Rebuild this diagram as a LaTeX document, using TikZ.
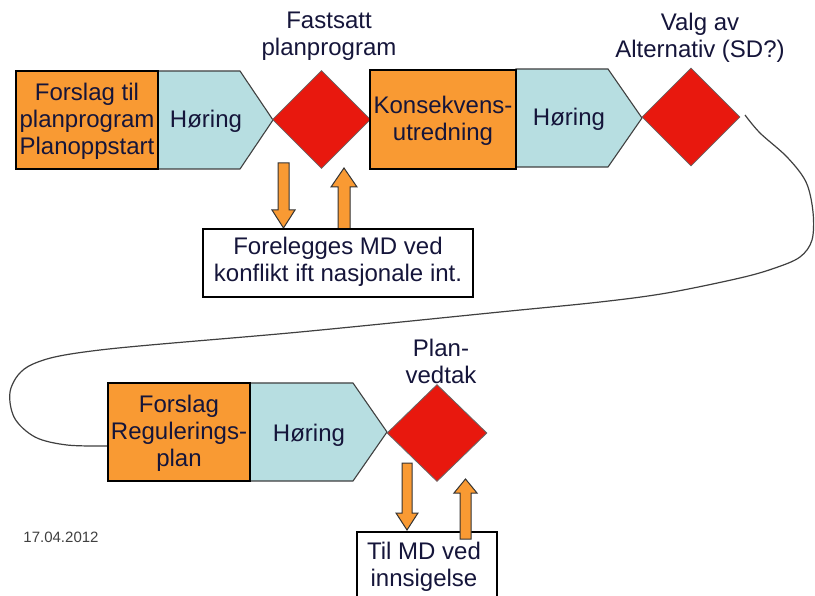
\documentclass[tikz,border=0pt]{standalone}
\usepackage{fontspec}
\setmainfont{Liberation Sans}
\usetikzlibrary{shapes.geometric}
\definecolor{orng}{HTML}{F99A33}
\definecolor{lblue}{HTML}{B7DEE1}
\definecolor{dred}{HTML}{E8180E}
\definecolor{txt}{HTML}{15153A}
\tikzset{
  obox/.style={draw=black, line width=1.4pt, fill=orng},
  bpent/.style={draw=black!75, line width=1.1pt, fill=lblue},
  dmd/.style={diamond, draw=black!60, line width=0.8pt, fill=dred, inner sep=0pt, minimum width=98pt, minimum height=98pt},
  lbl/.style={align=center, text=txt, font=\fontsize{24}{27}\selectfont, inner sep=0pt},
  wbox/.style={draw=black, line width=1.3pt, fill=white},
  barrow/.style={draw=black!80, line width=1pt, fill=orng, line join=miter},
  flow/.style={draw=black!75, line width=1.2pt}
}
\begin{document}
\begin{tikzpicture}[x=1pt,y=-1pt]
\clip (0,0) rectangle (815,596);
\fill[white] (0,0) rectangle (815,596);
% curve
\coordinate (cstart) at (745,115);
\coordinate (cend) at (108,446);
\draw[flow] plot[smooth, tension=0.55] coordinates {(cstart) (760,133) (787,157) (806,182) (813,212) (812,240) (800,257) (775,268) (740,278) (667,293) (600,302) (500,312) (300,332) (100,350) (33,364) (11,388) (14,417) (35,437) (67,445) (cend)};
% top row
\draw[bpent] (158,71) -- (240,71) -- (273,120) -- (240,169) -- (158,169) -- cycle;
\draw[obox] (16,71) rectangle (158,169);
\node[dmd] (d1) at (321.5,119.5) {};
\draw[bpent] (516,69) -- (608,69) -- (642,118) -- (608,167) -- (516,167) -- cycle;
\draw[obox] (370,70) rectangle (516,169);
\node[dmd] (d2) at (691,117) {};
\node[lbl] (t1) at (87,121) {Forslag til\\planprogram\\Planoppstart};
\node[lbl] (h1) at (206,121) {Høring};
\node[lbl] (t2) at (443,121) {Konsekvens-\\utredning};
\node[lbl] (h2) at (569,119) {Høring};
\node[lbl] (l1) at (329,36) {Fastsatt\\planprogram};
\node[lbl] (l2) at (700,38) {Valg av\\Alternativ (SD?)};
% arrows top
\draw[barrow] (278,163) -- (289,163) -- (289,210) -- (295,210) -- (283.5,228) -- (272,210) -- (278,210) -- cycle;
\draw[barrow] (338,229) -- (350,229) -- (350,187) -- (357,187) -- (344,168) -- (331,187) -- (338,187) -- cycle;
\draw[wbox] (203,229) rectangle (473,297);
\node[lbl] (f1) at (338,262) {Forelegges MD ved\\konflikt ift nasjonale int.};
% bottom row
\draw[bpent] (250,383) -- (353,383) -- (387,432) -- (353,481) -- (250,481) -- cycle;
\draw[obox] (108,383) rectangle (250,481);
\node[dmd, minimum width=100pt, minimum height=97pt] (d3) at (437,433) {};
\node[lbl] (t3) at (179,433) {Forslag\\Regulerings-\\plan};
\node[lbl] (h3) at (309,435) {Høring};
\node[lbl] (l3) at (441,361) {Plan-\\vedtak};
\draw[barrow] (402,463) -- (412,463) -- (412,513) -- (418,513) -- (407,530) -- (396,513) -- (402,513) -- cycle;
\draw[wbox] (357,532) rectangle (497,610);
\node[lbl] (f2) at (424,567) {Til MD ved\\innsigelse};
\draw[barrow] (460,539) -- (471,539) -- (471,493) -- (477,493) -- (465.5,479) -- (454,493) -- (460,493) -- cycle;
\node[text=black!75, font=\fontsize{15}{17}\selectfont, inner sep=0pt] (date) at (61,537) {17.04.2012};
\end{tikzpicture}
\end{document}
